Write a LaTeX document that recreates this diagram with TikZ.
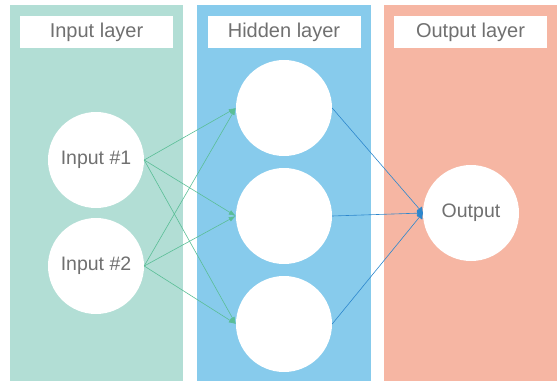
\documentclass[tikz,border=0pt]{standalone}
\usepackage{fontspec}
\setmainfont{Liberation Sans}
\usepackage{xcolor}
\definecolor{ingreen}{RGB}{178,222,213}
\definecolor{hidblue}{RGB}{135,203,236}
\definecolor{outred}{RGB}{246,182,163}
\definecolor{edgegreen}{RGB}{90,190,150}
\definecolor{edgeblue}{RGB}{45,135,205}
\definecolor{labelgray}{RGB}{112,112,112}
\usetikzlibrary{arrows.meta}

\begin{document}
\begin{tikzpicture}[x=1pt, y=-1pt,
    title/.style={fill=white, minimum width=153pt, minimum height=32pt,
      inner sep=0pt, text=labelgray, font=\fontsize{20}{22}\selectfont},
    neuron/.style={circle, fill=white, minimum size=96pt, inner sep=0pt,
      text=labelgray, font=\fontsize{19.5}{22}\selectfont},
    greenedge/.style={draw=edgegreen, line width=0.6pt,
      -{Latex[length=7pt,width=5pt]}},
    blueedge/.style={draw=edgeblue, line width=0.6pt,
      -{Latex[length=6pt,width=8pt,round]}}]
    \useasboundingbox (0,0) rectangle (557,381);

    %  layer panels
    \fill[ingreen] (10,5) rectangle (183,381);
    \fill[hidblue] (197,5) rectangle (370.5,381);
    \fill[outred] (384,5) rectangle (557,381);

    \node[title] (intitle) at (96.5,32) {Input layer};
    \node[title] (hidtitle) at (284,32) {Hidden layer};
    \node[title] (outtitle) at (470.5,32) {Output layer};

    %  input layer
    \node[neuron] (in1) at (96,160) {Input \#1};
    \node[neuron] (in2) at (96,266) {Input \#2};

    %  hidden layer
    \node[neuron] (hid1) at (284,108) {};
    \node[neuron] (hid2) at (284,216) {};
    \node[neuron] (hid3) at (284,324) {};

    %  output layer
    \node[neuron] (out) at (471,213) {Output};

    \foreach \i in {1,2}
      \foreach \j in {1,2,3}
        \draw[greenedge] (in\i.east) -- (hid\j.west);
    \foreach \j in {1,2,3}
      \draw[blueedge] (hid\j.east) -- (out.west);
\end{tikzpicture}
\end{document}
